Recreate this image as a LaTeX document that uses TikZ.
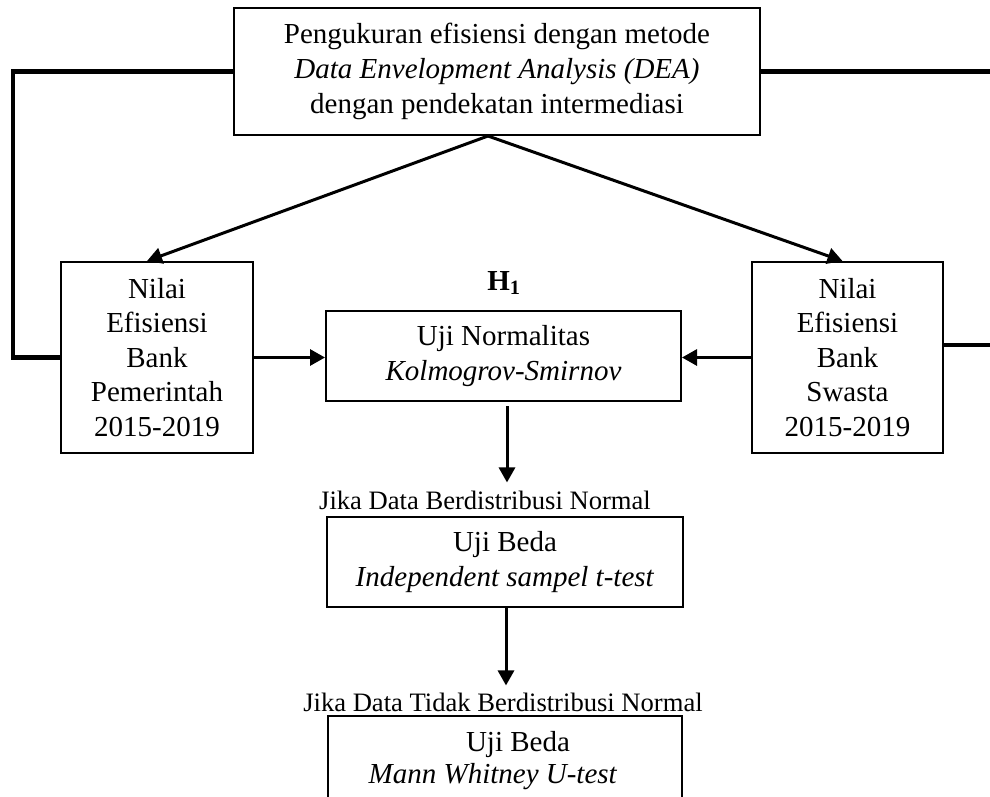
\documentclass[tikz,border=0pt]{standalone}
\usepackage{fontspec}
\setmainfont{Liberation Serif}
\usetikzlibrary{arrows.meta}
\begin{document}
\begin{tikzpicture}[x=1pt,y=-1pt,
  box/.style={draw, line width=2pt, inner sep=0pt, align=center, font=\fontsize{29}{34.5}\selectfont},
  lbl/.style={inner sep=0pt, font=\fontsize{26.6}{30}\selectfont},
  txt/.style={inner sep=0pt, font=\fontsize{29}{34.5}\selectfont},
  arr/.style={line width=3pt, -{Triangle[length=15pt,width=16pt]}},
  loopline/.style={line width=4.5pt}]
\clip (0,0) rectangle (990,797);
\node[box, minimum width=526pt, minimum height=127pt, font=\fontsize{29}{35}\selectfont] (top) at (497,71.5)
  {Pengukuran efisiensi dengan metode\\ \textit{Data Envelopment Analysis (DEA)}\\ dengan pendekatan intermediasi};
\node[box, minimum width=192pt, minimum height=191pt] (gov) at (157,357.5)
  {Nilai\\Efisiensi\\Bank\\Pemerintah\\2015-2019};
\node[box, minimum width=191pt, minimum height=191pt] (pri) at (847.5,357.5)
  {Nilai\\Efisiensi\\Bank\\Swasta\\2015-2019};
\node[box, minimum width=355pt, minimum height=90pt] (mid) at (503.5,356)
  {Uji Normalitas\\\textit{Kolmogrov-Smirnov}};
\node[txt, font=\fontsize{29}{34.5}\selectfont\bfseries] (h1) at (504,283) {H\textsubscript{1}};
\node[lbl] (lab1) at (485,500) {Jika Data Berdistribusi Normal};
\node[box, minimum width=356pt, minimum height=90pt] (ttest) at (505,562)
  {Uji Beda\\\textit{Independent sampel t-test}};
\node[lbl] (lab2) at (503,702) {Jika Data Tidak Berdistribusi Normal};
\node[draw, line width=2pt, minimum width=354pt, minimum height=110pt, anchor=north] (mw) at (505,715) {};
\node[txt] (mw1) at (518,745) {Uji Beda};
\node[txt] (mw2) at (493,777) {\textit{Mann Whitney U-test}};
% loop lines
\coordinate (lx) at (13,357.5);
\coordinate (rx) at (1000,71.5);
\coordinate (ry) at (1000,345);
\draw[loopline] (top.west) -| (lx) -- (gov.west);
\draw[loopline] (top.east) -- (rx);
\draw[loopline] (pri.east |- ry) -- (ry);
% arrows
\draw[arr] ([xshift=-9pt]top.south) -- ([xshift=-10pt]gov.north);
\draw[arr] ([xshift=-9pt]top.south) -- ([xshift=-5pt]pri.north);
\draw[arr] (gov.east) -- (mid.west |- gov.east);
\draw[arr] (pri.west) -- (mid.east |- pri.west);
\draw[arr, shorten >=8pt] ([xshift=3.5pt,yshift=-4pt]mid.south) -- ([xshift=3.5pt]mid.south |- lab1.north);
\draw[arr, shorten >=7pt] ([xshift=1pt]ttest.south) -- ([xshift=1pt]ttest.south |- lab2.north);
\end{tikzpicture}
\end{document}
